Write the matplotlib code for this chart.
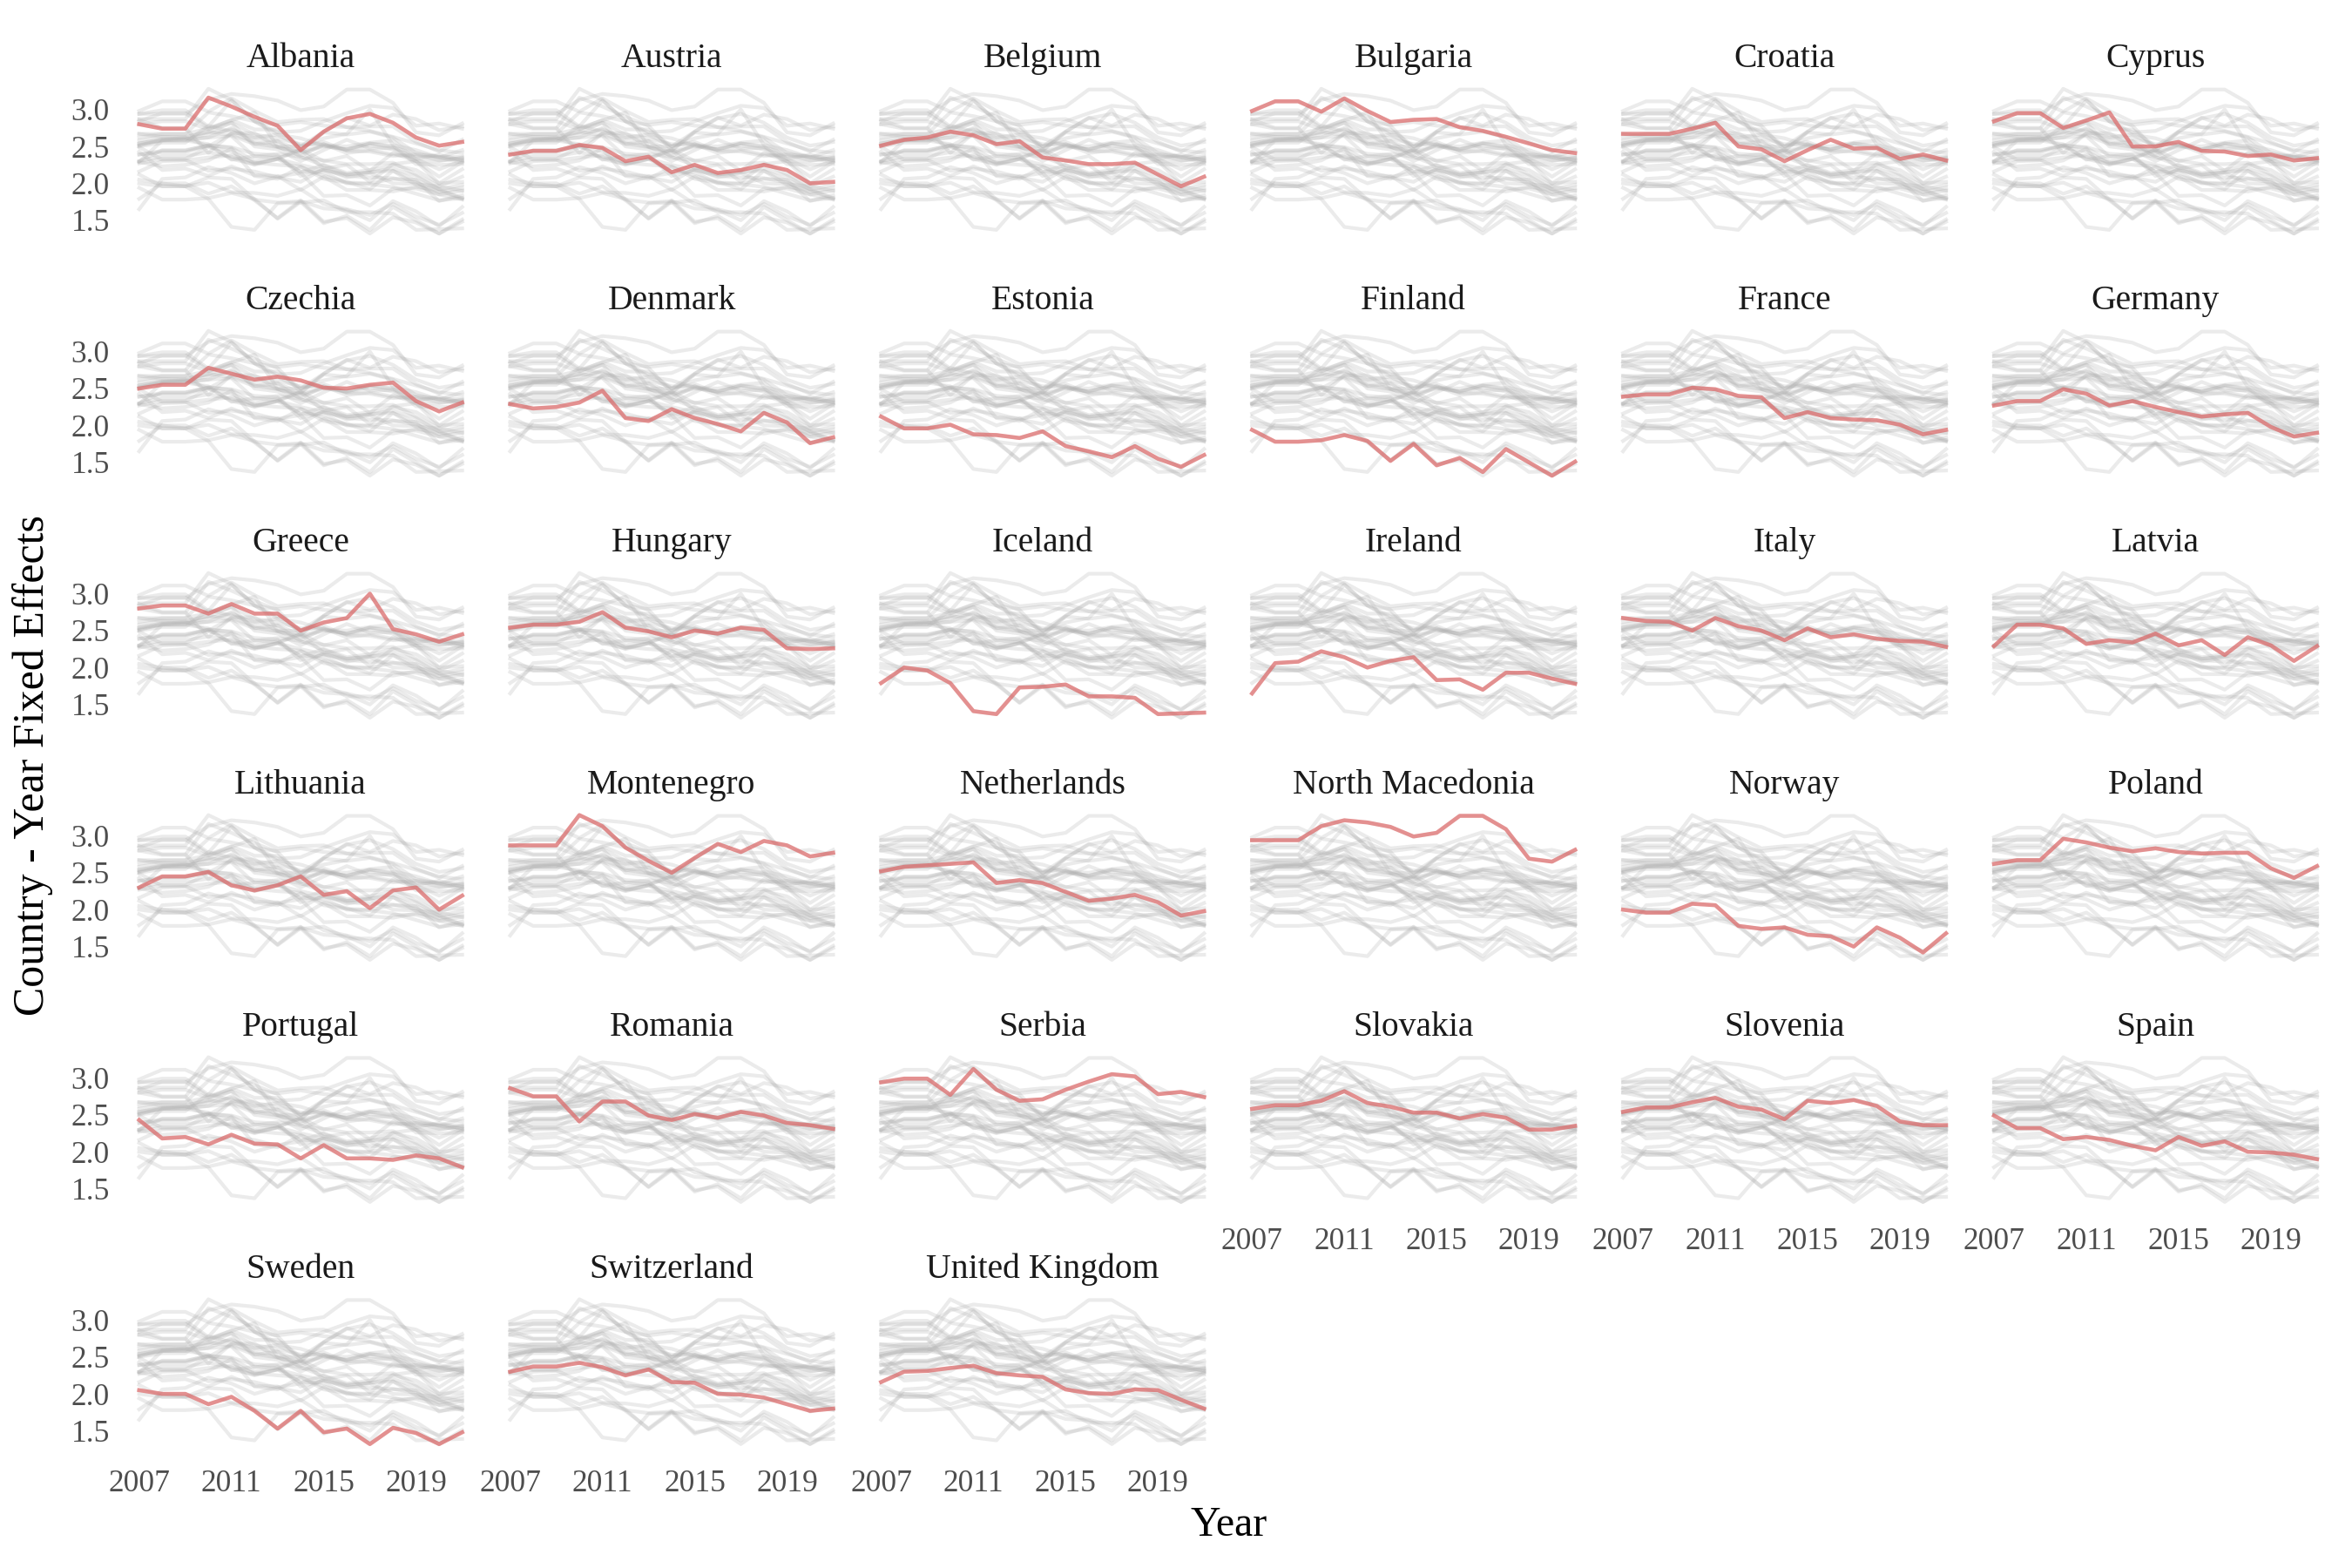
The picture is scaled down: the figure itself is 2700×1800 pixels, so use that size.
import matplotlib
matplotlib.use("Agg")
import matplotlib.pyplot as plt
from matplotlib.ticker import FormatStrFormatter

plt.rcParams['font.family'] = ['Liberation Serif', 'DejaVu Serif']

# years on the x axis
years = list(range(2007, 2022))

# country - year fixed effects
albania = [2.80, 2.74, 2.74, 3.16, 3.04, 2.90, 2.78, 2.45, 2.70, 2.88, 2.94, 2.82, 2.62, 2.51, 2.56]
austria = [2.39, 2.44, 2.44, 2.52, 2.48, 2.30, 2.36, 2.15, 2.25, 2.14, 2.18, 2.25, 2.18, 2.00, 2.02]
belgium = [2.51, 2.59, 2.62, 2.70, 2.65, 2.53, 2.57, 2.35, 2.31, 2.26, 2.26, 2.28, 2.12, 1.96, 2.09]
bulgaria = [2.98, 3.11, 3.11, 2.97, 3.15, 2.98, 2.83, 2.86, 2.87, 2.76, 2.71, 2.63, 2.54, 2.45, 2.41]
croatia = [2.67, 2.67, 2.67, 2.74, 2.82, 2.50, 2.46, 2.30, 2.45, 2.59, 2.47, 2.48, 2.33, 2.39, 2.31]
cyprus = [2.84, 2.95, 2.95, 2.75, 2.85, 2.96, 2.50, 2.50, 2.56, 2.44, 2.43, 2.37, 2.39, 2.31, 2.34]
czechia = [2.50, 2.55, 2.55, 2.78, 2.70, 2.62, 2.66, 2.61, 2.51, 2.50, 2.55, 2.58, 2.33, 2.19, 2.31]
denmark = [2.29, 2.23, 2.25, 2.31, 2.47, 2.10, 2.06, 2.22, 2.10, 2.02, 1.92, 2.17, 2.04, 1.76, 1.84]
estonia = [2.12, 1.96, 1.96, 2.01, 1.88, 1.87, 1.83, 1.92, 1.72, 1.65, 1.57, 1.72, 1.55, 1.44, 1.60]
finland = [1.94, 1.78, 1.78, 1.80, 1.87, 1.79, 1.52, 1.75, 1.46, 1.56, 1.37, 1.68, 1.50, 1.32, 1.51]
france = [2.39, 2.42, 2.42, 2.51, 2.49, 2.40, 2.38, 2.10, 2.18, 2.10, 2.08, 2.07, 2.01, 1.88, 1.94]
germany = [2.27, 2.33, 2.33, 2.49, 2.43, 2.27, 2.33, 2.25, 2.18, 2.12, 2.15, 2.17, 1.98, 1.85, 1.90]
greece = [2.80, 2.84, 2.84, 2.73, 2.86, 2.73, 2.73, 2.50, 2.61, 2.67, 3.00, 2.52, 2.45, 2.35, 2.45]
hungary = [2.54, 2.58, 2.58, 2.62, 2.75, 2.54, 2.49, 2.41, 2.50, 2.46, 2.54, 2.51, 2.26, 2.25, 2.26]
iceland = [1.79, 2.00, 1.96, 1.79, 1.41, 1.37, 1.73, 1.74, 1.77, 1.61, 1.61, 1.59, 1.37, 1.38, 1.39]
ireland = [1.65, 2.06, 2.08, 2.22, 2.14, 2.00, 2.09, 2.14, 1.83, 1.84, 1.70, 1.93, 1.93, 1.85, 1.78]
italy = [2.67, 2.63, 2.62, 2.50, 2.67, 2.56, 2.50, 2.37, 2.53, 2.41, 2.45, 2.39, 2.36, 2.35, 2.28]
latvia = [2.29, 2.58, 2.58, 2.53, 2.32, 2.37, 2.34, 2.46, 2.30, 2.37, 2.17, 2.41, 2.30, 2.09, 2.29]
lithuania = [2.30, 2.45, 2.45, 2.51, 2.33, 2.26, 2.33, 2.45, 2.20, 2.25, 2.02, 2.26, 2.30, 2.00, 2.19]
montenegro = [2.87, 2.87, 2.87, 3.28, 3.13, 2.84, 2.66, 2.50, 2.70, 2.89, 2.78, 2.93, 2.87, 2.72, 2.77]
netherlands = [2.52, 2.58, 2.60, 2.62, 2.64, 2.36, 2.40, 2.36, 2.24, 2.12, 2.15, 2.20, 2.10, 1.92, 1.98]
north_macedonia = [2.94, 2.94, 2.94, 3.13, 3.21, 3.18, 3.12, 2.99, 3.04, 3.27, 3.27, 3.09, 2.69, 2.65, 2.81]
norway = [2.00, 1.96, 1.96, 2.08, 2.06, 1.78, 1.74, 1.76, 1.66, 1.64, 1.50, 1.76, 1.62, 1.42, 1.68]
poland = [2.62, 2.67, 2.67, 2.96, 2.91, 2.84, 2.79, 2.83, 2.78, 2.76, 2.77, 2.77, 2.56, 2.43, 2.59]
portugal = [2.43, 2.18, 2.20, 2.10, 2.23, 2.11, 2.10, 1.91, 2.09, 1.91, 1.91, 1.89, 1.95, 1.91, 1.79]
romania = [2.86, 2.75, 2.75, 2.41, 2.68, 2.68, 2.49, 2.43, 2.51, 2.46, 2.54, 2.49, 2.39, 2.36, 2.31]
serbia = [2.94, 2.99, 2.99, 2.77, 3.12, 2.84, 2.69, 2.71, 2.84, 2.95, 3.05, 3.02, 2.78, 2.81, 2.74]
slovakia = [2.58, 2.63, 2.63, 2.69, 2.82, 2.66, 2.61, 2.53, 2.53, 2.45, 2.51, 2.46, 2.30, 2.30, 2.35]
slovenia = [2.54, 2.60, 2.60, 2.67, 2.73, 2.61, 2.57, 2.44, 2.69, 2.66, 2.70, 2.62, 2.41, 2.36, 2.36]
spain = [2.49, 2.32, 2.32, 2.17, 2.20, 2.16, 2.08, 2.02, 2.20, 2.08, 2.14, 2.00, 1.99, 1.96, 1.90]
sweden = [2.05, 2.00, 2.00, 1.86, 1.96, 1.77, 1.53, 1.77, 1.48, 1.53, 1.32, 1.54, 1.47, 1.32, 1.48]
switzerland = [2.30, 2.37, 2.37, 2.42, 2.36, 2.25, 2.33, 2.16, 2.15, 2.00, 1.99, 1.95, 1.86, 1.77, 1.80]
united_kingdom = [2.16, 2.30, 2.31, 2.35, 2.38, 2.28, 2.25, 2.23, 2.06, 2.01, 2.00, 2.06, 2.05, 1.92, 1.80]

countries = ["Albania", "Austria", "Belgium", "Bulgaria", "Croatia", "Cyprus",
             "Czechia", "Denmark", "Estonia", "Finland", "France", "Germany",
             "Greece", "Hungary", "Iceland", "Ireland", "Italy", "Latvia",
             "Lithuania", "Montenegro", "Netherlands", "North Macedonia", "Norway", "Poland",
             "Portugal", "Romania", "Serbia", "Slovakia", "Slovenia", "Spain",
             "Sweden", "Switzerland", "United Kingdom"]
values = [albania, austria, belgium, bulgaria, croatia, cyprus,
          czechia, denmark, estonia, finland, france, germany,
          greece, hungary, iceland, ireland, italy, latvia,
          lithuania, montenegro, netherlands, north_macedonia, norway, poland,
          portugal, romania, serbia, slovakia, slovenia, spain,
          sweden, switzerland, united_kingdom]

xticks = [2007, 2011, 2015, 2019]
yticks = [1.5, 2.0, 2.5, 3.0]

ncol = 6
nrow = 6
fig, axes = plt.subplots(nrow, ncol, figsize=(9, 6), dpi=300, sharex=True, sharey=True)
fig.subplots_adjust(left=0.0523, right=0.992, top=0.948, bottom=0.0744,
                    wspace=0.044, hspace=0.52)

n = len(countries)
for i, ax in enumerate(axes.flat):
    if i >= n:
        ax.remove()
        continue
    # every country in grey behind, the panel's own country in red
    for v in values:
        ax.plot(years, v, color='#b0b0b0', alpha=0.25, lw=1.0)
    ax.plot(years, values[i], color='#E06060', alpha=0.65, lw=1.1)
    ax.set_title(countries[i], fontsize=9.5, color='#1a1a1a', pad=4)
    for s in ax.spines.values():
        s.set_visible(False)
    ax.set_xticks(xticks)
    ax.set_yticks(yticks)
    ax.yaxis.set_major_formatter(FormatStrFormatter('%.1f'))
    r, c = divmod(i, ncol)
    bottom_panel = (i + ncol >= n)
    ax.tick_params(axis='x', length=0, labelsize=8.5, labelcolor='#4d4d4d', pad=5,
                   labelbottom=bottom_panel)
    ax.tick_params(axis='y', length=0, labelsize=8.5, labelcolor='#4d4d4d', pad=3.7,
                   labelleft=(c == 0))

fig.text(0.5225, 0.027, "Year", ha='center', va='center', fontsize=11.5)
fig.text(0.014, 0.512, "Country - Year Fixed Effects", ha='center', va='center',
         rotation=90, fontsize=12)

fig.savefig("out.png", dpi=300, facecolor='white')
